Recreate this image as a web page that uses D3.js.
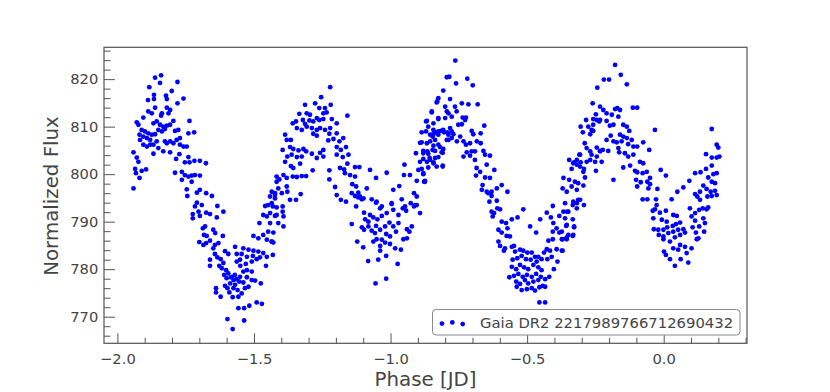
<!DOCTYPE html>
<html>
<head>
<meta charset="utf-8">
<script src="https://cdn.jsdelivr.net/npm/d3@7"></script>
<style>
  body { margin: 0; background: #fff; }
  text { font-family: "DejaVu Sans", sans-serif; }
</style>
</head>
<body>
<svg width="830" height="392"></svg>
<script>
// folded light curve as [phase, flux] pairs
var peakA = [[-1.862,820.3],[-1.840,820.8],[-1.844,819.2],[-1.780,819.4],[-1.883,818.3],[-1.801,817.5],[-1.866,816.7],[-1.822,816.5],
  [-1.888,815.6],[-1.866,815.8],[-1.819,815.8],[-1.758,815.9],[-1.780,814.9],[-1.862,814.0],[-1.887,813.2],[-1.874,812.8],[-1.837,812.8],
  [-1.819,814.0],[-1.807,813.5],[-1.840,812.3],[-1.813,812.8],[-1.905,811.9],[-1.929,810.9],[-1.923,810.4],[-1.868,810.7],[-1.856,811.1],
  [-1.844,810.4],[-1.832,810.0],[-1.819,810.2],[-1.807,810.4],[-1.795,811.2],[-1.736,811.2],[-1.911,809.3],[-1.899,809.0],[-1.887,808.6],
  [-1.874,808.3],[-1.862,808.4],[-1.850,809.3],[-1.837,809.0],[-1.826,809.5],[-1.789,809.1],[-1.777,809.3],[-1.919,808.3],[-1.905,807.9],
  [-1.892,807.6],[-1.880,807.2],[-1.917,807.2],[-1.905,806.2],[-1.892,805.8],[-1.880,806.2],[-1.868,806.2],[-1.856,806.9],[-1.826,806.9],
  [-1.819,806.5],[-1.807,806.9],[-1.795,806.5],[-1.783,807.2],[-1.771,807.6],[-1.771,806.2],[-1.758,805.8],[-1.746,805.8],[-1.740,808.6],
  [-1.719,808.8],[-1.941,804.6],[-1.929,803.5],[-1.923,802.6],[-1.868,804.3],[-1.850,805.5],[-1.832,804.8],[-1.807,804.6],[-1.773,804.2],
  [-1.785,803.2],[-1.740,803.6],[-1.753,802.5],[-1.736,802.5],[-1.718,802.8],[-1.698,802.8],[-1.676,802.3],[-1.935,801.1],[-1.932,800.2],
  [-1.911,800.7],[-1.895,801.0],[-1.919,799.2],[-1.789,800.3],[-1.764,800.5],[-1.753,799.8],[-1.740,799.5],[-1.728,799.7],[-1.716,799.8],
  [-1.698,799.7],[-1.764,798.8],[-1.728,798.4],[-1.941,797.0],[-1.746,796.8],[-1.698,796.7],[-1.675,796.0],[-1.709,796.1]];

var dipA = [[-1.744,795.4],[-1.654,795.4],[-1.709,794.0],[-1.691,793.5],[-1.716,793.2],[-1.634,793.3],[-1.703,792.1],[-1.675,791.9],
  [-1.724,791.6],[-1.698,791.2],[-1.724,790.7],[-1.661,791.6],[-1.636,790.9],[-1.612,792.1],[-1.687,788.6],[-1.679,789.0],[-1.649,788.3],
  [-1.642,787.6],[-1.683,787.2],[-1.673,787.0],[-1.614,787.0],[-1.700,785.7],[-1.675,785.5],[-1.661,786.0],[-1.643,785.1],[-1.630,785.5],
  [-1.649,784.4],[-1.685,785.1],[-1.643,783.2],[-1.634,782.5],[-1.606,783.8],[-1.594,783.2],[-1.661,782.0],[-1.622,782.1],[-1.612,781.3],
  [-1.661,780.7],[-1.627,780.7],[-1.618,780.2],[-1.602,779.8],[-1.594,779.1],[-1.609,778.8],[-1.600,778.1],[-1.584,778.3],[-1.575,777.7],
  [-1.563,777.9],[-1.587,777.0],[-1.569,776.7],[-1.606,776.5],[-1.597,776.0],[-1.639,776.0],[-1.639,775.1],[-1.622,774.2],[-1.578,774.1],
  [-1.557,774.2],[-1.545,774.9],[-1.533,776.0],[-1.520,776.3],[-1.551,778.4],[-1.526,778.3],[-1.508,777.7],[-1.496,777.6],[-1.475,777.0],
  [-1.539,779.5],[-1.526,779.8],[-1.508,779.5],[-1.550,780.7],[-1.530,781.1],[-1.508,781.6],[-1.563,781.6],[-1.551,782.0],[-1.563,783.2],
  [-1.545,783.2],[-1.539,784.4],[-1.520,784.1],[-1.502,783.9],[-1.484,783.7],[-1.569,784.7],[-1.526,782.6],[-1.504,782.8],[-1.490,782.1],
  [-1.478,782.5],[-1.466,783.4],[-1.453,782.6],[-1.456,780.7],[-1.431,783.0],[-1.502,787.0],[-1.484,786.5],[-1.466,787.2],[-1.453,786.2],
  [-1.435,785.8],[-1.448,787.9],[-1.441,789.7],[-1.480,789.7],[-1.466,791.4],[-1.453,791.1],[-1.441,791.8],[-1.423,791.2],[-1.459,793.3],
  [-1.448,793.5],[-1.435,793.9],[-1.417,793.0],[-1.441,795.3],[-1.423,794.9],[-1.435,796.3],[-1.423,796.0],[-1.417,798.4],[-1.557,771.8],
  [-1.536,771.8],[-1.517,772.3],[-1.490,773.0],[-1.471,772.7],[-1.536,769.2],[-1.597,769.5],[-1.578,767.4],[-1.580,778.4],[-1.570,778.8],
  [-1.554,777.4],[-1.575,776.0],[-1.590,775.1],[-1.560,775.6],[-1.539,777.2]];

var peakB = [[-1.221,818.3],[-1.254,816.2],[-1.313,814.6],[-1.276,814.9],[-1.240,813.9],[-1.219,814.6],[-1.261,813.9],[-1.334,812.7],
  [-1.307,812.8],[-1.295,812.5],[-1.270,811.8],[-1.246,812.8],[-1.234,813.0],[-1.158,812.3],[-1.346,811.1],[-1.358,810.7],[-1.321,811.4],
  [-1.313,810.6],[-1.297,811.3],[-1.283,811.1],[-1.261,811.4],[-1.246,811.6],[-1.215,811.6],[-1.197,810.7],[-1.343,809.7],[-1.325,809.3],
  [-1.307,810.0],[-1.288,809.7],[-1.270,809.3],[-1.258,809.7],[-1.240,809.3],[-1.221,809.7],[-1.283,808.5],[-1.270,808.1],[-1.224,808.5],
  [-1.197,808.6],[-1.173,807.6],[-1.386,808.3],[-1.380,807.2],[-1.365,807.2],[-1.228,807.1],[-1.209,807.4],[-1.187,806.9],[-1.395,805.1],
  [-1.368,805.7],[-1.356,805.3],[-1.337,805.0],[-1.319,805.3],[-1.309,804.8],[-1.246,805.1],[-1.258,804.5],[-1.197,805.7],[-1.182,805.1],
  [-1.163,805.7],[-1.154,804.1],[-1.378,803.7],[-1.362,804.1],[-1.343,803.6],[-1.325,803.7],[-1.288,804.3],[-1.270,803.4],[-1.246,803.7],
  [-1.197,804.1],[-1.175,803.6],[-1.386,802.6],[-1.365,801.7],[-1.356,801.3],[-1.331,802.2],[-1.285,800.8],[-1.224,800.8],[-1.185,801.3],
  [-1.170,801.0],[-1.158,802.2],[-1.130,801.5],[-1.114,801.5],[-1.075,800.9],[-1.417,799.5],[-1.407,798.9],[-1.392,799.8],[-1.380,799.2],
  [-1.358,799.5],[-1.343,799.4],[-1.325,799.6],[-1.309,799.6],[-1.224,798.9],[-1.167,800.2],[-1.148,799.8],[-1.130,799.5],[-1.053,799.2],
  [-1.014,800.3],[-1.423,795.6],[-1.411,797.0],[-1.398,796.0],[-1.380,797.4],[-1.378,796.3],[-1.368,794.6],[-1.346,794.6],[-1.329,795.8],
  [-1.395,793.2],[-1.431,793.2],[-1.203,797.3],[-1.197,795.6],[-1.182,794.6],[-1.163,794.2],[-1.142,796.0],[-1.130,795.4],[-1.118,796.1],
  [-1.112,795.3],[-1.105,794.7],[-1.087,797.0],[-1.069,794.7],[-1.051,794.2],[-1.032,793.2],[-1.126,793.2],[-0.990,796.7],[-0.968,797.5],
  [-0.996,793.9],[-0.959,794.7],[-0.947,793.2],[-0.949,802.0],[-0.951,799.8],[-0.929,799.8],[-0.914,796.0],[-0.904,795.3],[-0.910,793.5],
  [-0.898,800.9],[-0.880,800.2],[-0.874,798.6],[-0.904,798.6],[-0.892,802.6],[-0.880,803.2],[-0.862,804.3],[-0.846,805.1],[-0.855,803.0],
  [-0.843,802.3],[-0.837,803.4],[-0.825,803.6],[-0.809,804.5],[-0.831,801.6],[-0.809,801.6],[-0.907,804.4],[-0.892,806.6],[-0.867,806.5],
  [-0.855,806.9],[-0.837,807.2],[-0.855,808.3],[-0.886,808.8],[-0.870,809.0],[-0.843,809.3],[-0.825,809.0],[-0.807,809.3],[-0.788,808.3],
  [-0.794,807.2],[-0.782,809.7],[-0.870,811.1],[-0.849,813.0],[-0.825,811.8],[-0.800,811.8],[-0.831,815.1],[-0.825,816.0],[-0.807,817.6],
  [-0.794,820.4],[-0.843,810.7],[-0.880,804.9],[-0.819,805.7],[-0.807,805.3]];

var dipB = [[-1.417,791.4],[-1.395,792.1],[-1.392,791.1],[-1.411,789.7],[-1.392,789.0],[-1.429,787.7],[-1.435,785.8],[-1.429,785.6],
  [-1.140,797.9],[-1.126,797.4],[-1.118,795.1],[-1.099,794.9],[-1.053,794.0],[-1.038,792.8],[-1.097,791.9],[-1.075,791.4],[-1.093,790.5],
  [-1.081,790.0],[-1.063,790.9],[-1.048,790.5],[-1.032,791.2],[-1.014,791.8],[-0.996,793.7],[-0.990,792.5],[-0.971,791.4],[-0.955,792.8],
  [-0.943,792.3],[-0.926,793.9],[-0.914,793.2],[-0.892,791.8],[-0.904,793.5],[-1.142,789.5],[-1.105,788.8],[-1.097,788.3],[-1.081,789.0],
  [-1.069,788.1],[-1.053,789.1],[-1.038,788.3],[-1.020,789.0],[-1.004,789.8],[-0.990,789.0],[-0.971,789.7],[-0.980,787.9],[-1.016,787.4],
  [-1.057,787.6],[-1.002,786.9],[-1.051,786.3],[-1.032,786.2],[-1.020,785.6],[-1.063,785.8],[-1.038,784.9],[-1.002,785.3],[-0.983,784.4],
  [-0.962,784.1],[-0.953,786.3],[-0.940,788.4],[-0.922,789.0],[-0.931,787.9],[-0.940,786.5],[-1.122,785.8],[-1.100,784.6],[-1.038,783.9],
  [-1.016,782.8],[-1.082,781.7],[-1.045,782.0],[-0.974,781.1],[-1.055,777.0],[-1.016,778.0],[-0.877,798.4]];

var peakC = [[-0.763,823.9],[-0.785,820.5],[-0.719,820.1],[-0.760,819.1],[-0.699,818.7],[-0.829,815.3],[-0.782,815.8],[-0.800,814.2],
  [-0.764,814.2],[-0.739,814.9],[-0.715,814.7],[-0.681,814.7],[-0.849,813.2],[-0.794,813.2],[-0.788,812.8],[-0.758,813.2],[-0.736,811.9],
  [-0.724,811.9],[-0.825,811.6],[-0.776,812.1],[-0.867,811.2],[-0.862,810.0],[-0.752,810.4],[-0.739,810.5],[-0.727,811.4],[-0.657,810.2],
  [-0.843,808.4],[-0.833,808.8],[-0.816,809.1],[-0.804,808.8],[-0.792,808.8],[-0.776,809.0],[-0.770,808.4],[-0.846,807.9],[-0.825,808.3],
  [-0.745,807.9],[-0.757,806.9],[-0.788,807.2],[-0.776,807.6],[-0.703,809.1],[-0.697,808.4],[-0.670,808.6],[-0.724,806.2],[-0.709,806.5],
  [-0.733,806.9],[-0.843,806.0],[-0.825,806.2],[-0.684,806.9],[-0.670,806.5],[-0.886,806.7],[-0.837,804.9],[-0.813,804.6],[-0.865,804.8],
  [-0.880,804.4],[-0.733,803.7],[-0.721,804.6],[-0.703,804.8],[-0.691,804.8],[-0.660,804.9],[-0.709,803.9],[-0.654,804.1],[-0.636,803.9],
  [-0.857,803.4],[-0.843,802.5],[-0.867,802.6],[-0.809,801.8],[-0.862,801.4],[-0.886,801.1],[-0.691,803.0],[-0.685,801.3],[-0.672,800.5],
  [-0.648,802.0],[-0.620,800.9],[-0.687,799.7],[-0.654,799.3],[-0.636,799.2],[-0.880,800.0],[-0.874,798.4],[-0.663,797.7],[-0.611,797.0],
  [-0.593,797.7],[-0.666,796.7],[-0.648,796.3],[-0.630,796.3],[-0.572,796.3]];

var dipC = [[-0.642,796.0],[-0.630,795.4],[-0.638,794.2],[-0.611,794.4],[-0.609,792.8],[-0.599,792.6],[-0.630,792.1],[-0.621,791.8],
  [-0.626,791.1],[-0.593,790.0],[-0.577,789.7],[-0.556,790.5],[-0.535,790.9],[-0.514,792.6],[-0.605,788.3],[-0.593,787.7],[-0.572,788.6],
  [-0.575,787.0],[-0.563,786.9],[-0.605,785.8],[-0.599,784.9],[-0.581,784.4],[-0.556,784.7],[-0.548,784.9],[-0.585,783.9],[-0.489,789.0],
  [-0.467,787.7],[-0.452,790.5],[-0.428,791.9],[-0.406,793.3],[-0.413,790.9],[-0.422,786.0],[-0.406,786.3],[-0.428,784.2],[-0.438,783.5],
  [-0.416,783.9],[-0.392,784.2],[-0.373,783.9],[-0.426,782.1],[-0.410,782.6],[-0.389,781.6],[-0.402,780.0],[-0.419,778.4],[-0.434,777.9],
  [-0.404,789.7],[-0.392,788.6],[-0.382,787.7],[-0.370,786.3],[-0.355,786.3],[-0.349,787.2],[-0.331,787.2],[-0.328,789.0],[-0.355,789.3],
  [-0.361,790.7],[-0.382,791.2],[-0.367,792.1],[-0.349,792.1],[-0.333,793.5],[-0.318,793.9],[-0.306,794.6],[-0.292,793.5],[-0.361,793.9],
  [-0.406,787.9],[-0.544,783.7],[-0.526,784.1],[-0.514,783.9],[-0.499,783.5],[-0.483,783.5],[-0.471,782.6],[-0.459,782.6],[-0.553,782.0],
  [-0.536,782.3],[-0.520,782.8],[-0.504,782.1],[-0.487,782.0],[-0.465,781.6],[-0.447,782.1],[-0.556,780.5],[-0.540,780.0],[-0.526,780.9],
  [-0.511,780.4],[-0.496,780.0],[-0.477,780.9],[-0.459,780.4],[-0.447,779.8],[-0.565,778.3],[-0.548,778.6],[-0.532,779.0],[-0.516,778.4],
  [-0.501,778.8],[-0.483,778.4],[-0.467,779.0],[-0.450,778.4],[-0.540,777.4],[-0.526,776.9],[-0.508,777.7],[-0.496,777.0],[-0.477,777.4],
  [-0.459,777.7],[-0.443,776.5],[-0.538,776.3],[-0.520,775.6],[-0.501,775.8],[-0.483,776.0],[-0.471,775.5],[-0.455,776.2],[-0.434,776.3],
  [-0.455,773.0],[-0.434,773.0]];

var peakD = [[-0.243,818.2],[-0.260,814.9],[-0.284,811.4],[-0.248,812.6],[-0.258,811.6],[-0.233,811.4],[-0.304,810.0],[-0.276,810.0],
  [-0.258,810.4],[-0.296,808.8],[-0.269,808.4],[-0.258,809.1],[-0.289,806.5],[-0.282,805.5],[-0.269,804.8],[-0.309,804.1],[-0.245,803.7],
  [-0.233,804.8],[-0.346,803.0],[-0.328,802.5],[-0.318,802.0],[-0.337,801.1],[-0.306,801.6],[-0.282,802.6],[-0.269,803.0],[-0.251,802.6],
  [-0.294,800.5],[-0.248,800.7],[-0.367,799.2],[-0.346,798.8],[-0.325,798.4],[-0.313,798.1],[-0.288,799.3],[-0.337,797.4],[-0.370,797.0],
  [-0.355,796.3],[-0.318,796.7],[-0.294,797.6],
  [-0.178,823.0],[-0.157,820.9],[-0.219,819.9],[-0.200,819.9],[-0.135,818.9],[-0.113,814.0],[-0.097,814.0],[-0.233,814.2],[-0.221,813.5],
  [-0.209,812.8],[-0.178,813.7],[-0.170,813.9],[-0.160,813.5],[-0.166,812.1],[-0.190,812.5],[-0.245,811.4],[-0.236,811.1],[-0.209,811.2],
  [-0.184,810.4],[-0.148,810.4],[-0.197,810.2],[-0.135,810.0],[-0.126,809.1],[-0.032,809.3],[-0.264,809.3],[-0.160,808.3],[-0.148,807.9],
  [-0.194,808.1],[-0.209,807.2],[-0.184,806.9],[-0.172,806.7],[-0.154,806.9],[-0.135,807.6],[-0.117,807.2],[-0.075,806.7],[-0.130,806.3],
  [-0.111,805.8],[-0.097,805.8],[-0.053,805.1],[-0.245,805.6],[-0.233,804.9],[-0.223,805.1],[-0.203,804.9],[-0.166,805.5],[-0.163,804.6],
  [-0.142,804.4],[-0.130,803.7],[-0.111,804.1],[-0.264,804.1],[-0.306,804.1],[-0.318,803.0],[-0.331,802.3],[-0.304,802.5],[-0.292,801.1],
  [-0.227,802.6],[-0.184,798.8],[-0.148,801.4],[-0.123,801.8],[-0.105,800.7],[-0.087,802.6],[-0.075,802.3],[-0.097,800.4],[-0.077,800.2],
  [-0.062,800.5],[-0.050,799.2],[-0.011,800.9],[0.008,799.7],[-0.101,798.8],[-0.084,798.3],[-0.060,798.4],[-0.050,797.9],[-0.056,797.0],
  [-0.097,797.4],[-0.023,796.9],
  [0.176,809.5],[0.194,806.2],[0.200,805.6],[0.155,804.2],[0.176,803.5],[0.194,803.5],[0.204,803.7],[0.176,801.8],[0.155,801.1],
  [0.182,800.0],[0.194,800.2],[0.115,800.2],[0.135,800.4],[0.094,798.6],[0.163,799.3],[0.176,798.4],[0.188,798.1],[0.145,797.6],
  [0.133,796.3],[0.157,796.9],[0.172,796.3],[0.188,796.5],[0.072,797.2],[0.050,796.3]];

var dipD = [[-0.331,794.2],[-0.313,794.6],[-0.318,792.8],[-0.353,792.1],[-0.333,790.5],[-0.357,789.1],[-0.328,788.8],[-0.373,787.9],
  [-0.333,787.0],[-0.355,786.7],[-0.373,786.3],[-0.370,783.9],[-0.077,794.7],[-0.060,794.7],[-0.028,794.7],[-0.026,793.5],[-0.040,792.3],
  [-0.032,792.6],[-0.014,791.9],[0.008,792.3],[0.029,794.7],[-0.038,790.7],[-0.007,790.4],[0.011,790.0],[0.035,791.4],[0.048,791.2],
  [-0.036,788.4],[-0.020,788.3],[-0.001,788.3],[0.013,788.8],[0.033,789.1],[0.045,789.5],[0.060,789.8],[-0.018,787.2],[-0.001,786.9],
  [0.017,787.6],[0.035,787.9],[0.053,788.3],[0.072,788.4],[-0.001,786.3],[0.023,785.8],[0.041,786.7],[0.060,787.2],[0.078,787.7],
  [0.001,783.7],[0.008,783.0],[0.035,784.4],[0.053,784.1],[0.060,785.1],[0.078,784.7],[0.023,782.1],[0.062,782.1],[0.041,780.7],
  [0.090,781.4],[0.084,783.4],[0.102,784.4],[0.121,786.3],[0.115,795.8],[0.123,795.3],[0.133,794.6],[0.096,792.8],[0.102,791.1],
  [0.115,791.8],[0.130,792.5],[0.143,792.8],[0.157,792.6],[0.163,793.0],[0.115,790.2],[0.130,789.0],[0.145,790.7],[0.151,789.7],
  [0.106,788.8],[0.118,787.7],[0.127,786.5],[0.148,787.9],[0.160,795.3],[0.176,795.4],[0.194,795.6]];

var xTicks = [-2.0, -1.5, -1.0, -0.5, 0.0];
var yTicks = [770, 780, 790, 800, 810, 820];
var xLabel = "Phase [JD]",
    yLabel = "Normalized Flux",
    legendLabel = "Gaia DR2 2217989766712690432";

var points = [].concat(peakA, dipA, peakB, dipB, peakC, dipC, peakD, dipD);

var svg = d3.select("svg"),
    plotLeft = 104, plotRight = 747, plotTop = 47.3, plotBottom = 343.3;

var x = d3.scaleLinear().domain([-2.049, 0.305]).range([plotLeft, plotRight]);
var y = d3.scaleLinear().domain([764.4, 826.7]).range([plotBottom, plotTop]);

var axisColor = "#555";

// minor ticks first, majors on top
var xMinor = d3.range(-20, 4).map(function(d) { return d / 10; })
    .filter(function(d) { return Math.abs(d * 2 - Math.round(d * 2)) > 1e-6; });
var yMinor = d3.range(766, 828, 2).filter(function(d) { return d % 10 != 0; });

svg.append("g")
    .attr("transform", "translate(0," + plotBottom + ")")
    .call(d3.axisBottom(x).tickValues(xMinor).tickSize(-5.5).tickFormat(""))
    .call(function(g) { g.select(".domain").remove(); });

svg.append("g")
    .attr("transform", "translate(" + plotLeft + ",0)")
    .call(d3.axisLeft(y).tickValues(yMinor).tickSize(-6.5).tickFormat(""))
    .call(function(g) { g.select(".domain").remove(); });

var xAxis = svg.append("g")
    .attr("transform", "translate(0," + plotBottom + ")")
    .call(d3.axisBottom(x).tickValues(xTicks).tickSize(-10).tickPadding(10)
      .tickFormat(d3.format(".1f")));
xAxis.select(".domain").remove();

var yAxis = svg.append("g")
    .attr("transform", "translate(" + plotLeft + ",0)")
    .call(d3.axisLeft(y).tickValues(yTicks).tickSize(-11).tickPadding(5.7)
      .tickFormat(d3.format("d")));
yAxis.select(".domain").remove();

svg.selectAll(".tick line").attr("stroke", axisColor);
svg.selectAll(".tick text")
    .attr("fill", "#444")
    .attr("font-size", "14.7px")
    .attr("font-family", "DejaVu Sans, sans-serif");

// frame
svg.append("rect")
    .attr("x", plotLeft).attr("y", plotTop)
    .attr("width", plotRight - plotLeft).attr("height", plotBottom - plotTop)
    .attr("fill", "none")
    .attr("stroke", axisColor)
    .attr("stroke-width", 1.2);

svg.append("g")
    .selectAll("circle")
    .data(points)
    .enter().append("circle")
      .attr("cx", function(d) { return x(d[0]); })
      .attr("cy", function(d) { return y(d[1]); })
      .attr("r", 2.4)
      .attr("fill", "#0000ff");

// axis labels
svg.append("text")
    .attr("x", (plotLeft + plotRight) / 2)
    .attr("y", 386)
    .attr("text-anchor", "middle")
    .attr("font-size", "19.8px")
    .attr("fill", "#444")
    .text(xLabel);

svg.append("text")
    .attr("transform", "translate(58,196) rotate(-90)")
    .attr("text-anchor", "middle")
    .attr("font-size", "19.8px")
    .attr("fill", "#444")
    .text(yLabel);

// legend
var legend = svg.append("g");
legend.append("rect")
    .attr("x", 432.5).attr("y", 309.5)
    .attr("width", 307.5).attr("height", 25.5)
    .attr("rx", 3.5)
    .attr("fill", "#fff")
    .attr("stroke", "#888")
    .attr("stroke-width", 1);

legend.selectAll("circle")
    .data([[442, 323.6], [452.3, 322.4], [462.7, 324.1]])
    .enter().append("circle")
      .attr("cx", function(d) { return d[0]; })
      .attr("cy", function(d) { return d[1]; })
      .attr("r", 2.4)
      .attr("fill", "#0000ff");

legend.append("text")
    .attr("x", 480)
    .attr("y", 328)
    .attr("font-size", "14.8px")
    .attr("fill", "#444")
    .text(legendLabel);
</script>
</body>
</html>
